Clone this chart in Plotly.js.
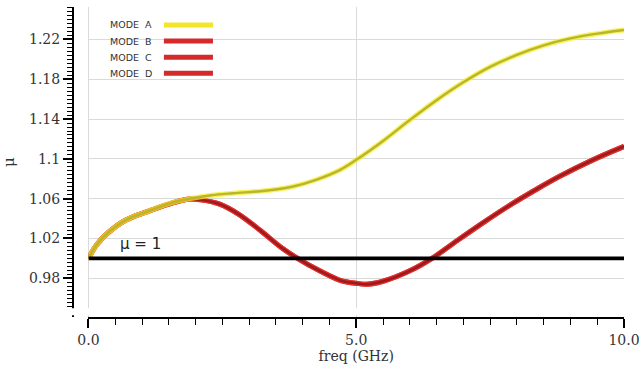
<!DOCTYPE html>
<html>
<head>
<meta charset="utf-8">
<script src="https://cdn.plot.ly/plotly-3.0.1.min.js"></script>
<style>html,body{margin:0;padding:0;background:#fff;}#chart{width:639px;height:375px;}</style>
</head>
<body>
<div id="chart"></div>
<script>
// ---- data ----
const seriesNames = ["MODE\u00a0 A", "MODE\u00a0 B", "MODE\u00a0 C", "MODE\u00a0 D"];
const freqA = [0, 0.15, 0.35, 0.7, 1.1, 1.5, 1.85, 2.3, 2.7, 3.3, 3.8, 4.25, 4.7, 5.0, 5.5, 6.0, 6.5, 7.0, 7.5, 8.0, 8.5, 9.0, 9.5, 10.0];
const modeA = [1.0, 1.0135, 1.025, 1.0385, 1.047, 1.055, 1.0595, 1.0635, 1.0655, 1.068, 1.072, 1.079, 1.089, 1.099, 1.118, 1.139, 1.159, 1.177, 1.1925, 1.2045, 1.214, 1.221, 1.2258, 1.2295];
const freqBCD = [0, 0.15, 0.35, 0.7, 1.1, 1.5, 1.85, 2.1, 2.45, 2.8, 3.2, 3.6, 3.95, 4.3, 4.7, 5.0, 5.2, 5.5, 6.0, 6.4, 6.9, 7.4, 7.9, 8.4, 8.8, 9.4, 10.0];
const modeB = [1.0, 1.0135, 1.025, 1.0385, 1.047, 1.0545, 1.0595, 1.0588, 1.0545, 1.0445, 1.0285, 1.011, 0.9985, 0.988, 0.978, 0.975, 0.974, 0.977, 0.9875, 0.9995, 1.0185, 1.037, 1.0545, 1.0705, 1.0825, 1.0985, 1.1125];
const modeC = [1.0, 1.0135, 1.025, 1.0385, 1.047, 1.0545, 1.0595, 1.0588, 1.0545, 1.0445, 1.0285, 1.011, 0.9985, 0.988, 0.978, 0.975, 0.974, 0.977, 0.9875, 0.9995, 1.0185, 1.037, 1.0545, 1.0705, 1.0825, 1.0985, 1.1125];
const modeD = [1.0, 1.0135, 1.025, 1.0385, 1.047, 1.0545, 1.0595, 1.0588, 1.0545, 1.0445, 1.0285, 1.011, 0.9985, 0.988, 0.978, 0.975, 0.974, 0.977, 0.9875, 0.9995, 1.0185, 1.037, 1.0545, 1.0705, 1.0825, 1.0985, 1.1125];
const unityX = [0, 10];
const unityY = [1, 1];
const unityLabel = "\u03bc = 1";
const xTickVals = [0, 5, 10];
const xTickText = ["0.0", "5.0", "10.0"];
const yTickVals = [0.98, 1.02, 1.06, 1.1, 1.14, 1.18, 1.22];
const yTickText = ["0.98", "1.02", "1.06", "1.1", "1.14", "1.18", "1.22"];
const xTitle = "freq (GHz)";
const yTitle = "\u03bc";

// ---- styles ----
const haloColors = ["rgba(245,238,40,0.75)", "rgba(225,40,40,0.7)", "rgba(225,40,40,0.7)", "rgba(225,40,40,0.7)"];
const coreColors = ["#b9b52c", "#9c1b1b", "#9c1b1b", "#9c1b1b"];
const legendColors = ["#f2e52a", "#d42a2a", "#d42a2a", "#d42a2a"];

const xs = [freqA, freqBCD, freqBCD, freqBCD];
const ys = [modeA, modeB, modeC, modeD];
const order = [1, 2, 3, 0];
const traces = [];
order.forEach(i => {
  traces.push({x: xs[i], y: ys[i], type: "scatter", mode: "lines", name: seriesNames[i],
    line: {color: haloColors[i], width: 5, shape: "spline", smoothing: 1}, hoverinfo: "skip", showlegend: false});
  traces.push({x: xs[i], y: ys[i], type: "scatter", mode: "lines", name: seriesNames[i],
    line: {color: coreColors[i], width: 2.4, shape: "spline", smoothing: 1}, showlegend: false});
});
traces.push({x: unityX, y: unityY, type: "scatter", mode: "lines", line: {color: "#000", width: 3.6}, showlegend: false});

// manual legend (text left of the line sample)
const annotations = [];
const shapes = [];
const legTop = 0.942, legStep = 0.052;
seriesNames.forEach((n, i) => {
  const yy = legTop - i * legStep;
  annotations.push({xref: "paper", yref: "paper", x: 0.063, y: yy, xanchor: "left", yanchor: "middle",
    text: n, showarrow: false, font: {family: "DejaVu Sans", size: 9.5, color: "#333"}});
  shapes.push({type: "line", xref: "paper", yref: "paper", x0: 0.165, x1: 0.254, y0: yy, y1: yy,
    line: {color: legendColors[i], width: 5}});
});
// white band separating the y axis line from the x axis line (detached spines)
shapes.push({type: "rect", xref: "paper", yref: "paper", x0: -0.035, x1: 1.02, y0: 0.0055, y1: 0.0285,
  fillcolor: "#fff", line: {width: 0}, layer: "above"});
annotations.push({xref: "x", yref: "y", x: 0.55, y: 1.0145, xanchor: "left", yanchor: "middle",
  text: unityLabel, showarrow: false, font: {family: "DejaVu Sans", size: 15, color: "#222"}});

const layout = {
  width: 639, height: 375,
  margin: {l: 73, r: 15, t: 7, b: 58, pad: 0},
  showlegend: false,
  font: {family: "DejaVu Serif", size: 14, color: "#333"},
  xaxis: {
    domain: [0.0281, 1], anchor: "y",
    range: [0, 10], tickmode: "array", tickvals: xTickVals, ticktext: xTickText,
    ticks: "outside", ticklen: 9, tickwidth: 2, tickcolor: "black",
    minor: {tickmode: "linear", dtick: 0.5, tick0: 0, ticklen: 6, tickwidth: 1, tickcolor: "black", ticks: "outside", showgrid: false},
    showline: true, linecolor: "black", linewidth: 2,
    gridcolor: "#dadada", zerolinecolor: "#dadada", zerolinewidth: 1,
    ticklabeloverflow: "allow",
    title: {text: xTitle, standoff: 4, font: {family: "DejaVu Serif", size: 14, color: "#333"}}
  },
  yaxis: {
    domain: [0, 1], anchor: "free", position: 0,
    range: [0.9411, 1.2526], tickmode: "array", tickvals: yTickVals, ticktext: yTickText,
    ticks: "outside", ticklen: 9, tickwidth: 2, tickcolor: "black",
    minor: {tickmode: "linear", dtick: 0.004, tick0: 0.98, ticklen: 5, tickwidth: 1, tickcolor: "black", ticks: "outside", showgrid: false},
    showline: true, linecolor: "black", linewidth: 2,
    gridcolor: "#dadada",
    title: {text: yTitle, standoff: 12, font: {family: "DejaVu Serif", size: 15, color: "#333"}}
  },
  annotations: annotations,
  shapes: shapes
};
Plotly.newPlot("chart", traces, layout, {displayModeBar: false, staticPlot: true});
</script>
</body>
</html>
